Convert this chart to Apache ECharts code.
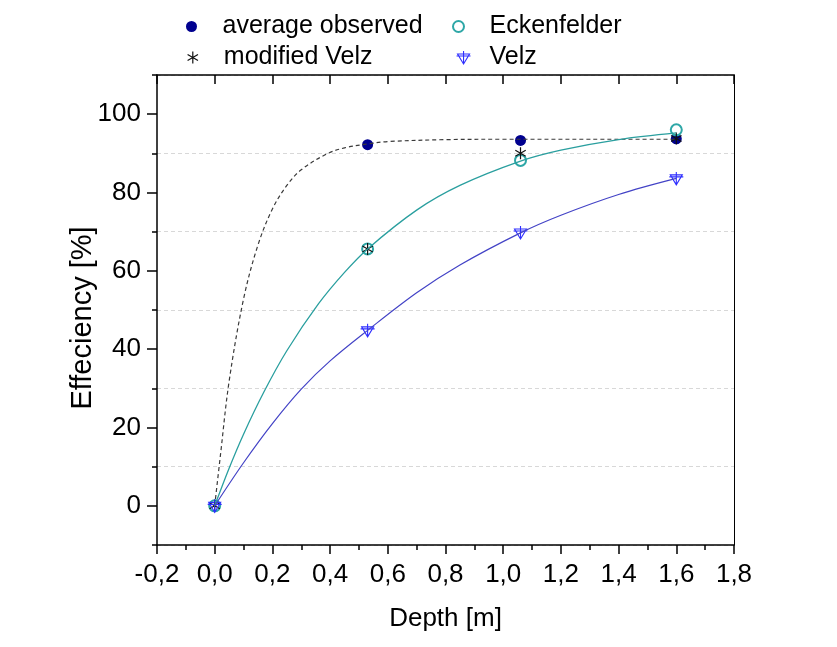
<!DOCTYPE html>
<html>
<head>
<meta charset="utf-8">
<script src="https://cdn.jsdelivr.net/npm/echarts@6/dist/echarts.min.js"></script>
<style>
  html, body { margin: 0; padding: 0; background: #fff; }
  #chart { width: 837px; height: 647px; }
</style>
</head>
<body>
<div id="chart"></div>
<script>
// Measured depths and removal efficiencies
const depth = [0, 0.53, 1.06, 1.6];
const averageObserved = [0, 92.2, 93.3, 93.7];
const eckenfelder = [0, 65.6, 88.2, 96.0];
const modifiedVelz = [0, 65.6, 90.0, 93.8];
const velz = [0, 44.8, 69.8, 83.6];

// Fitted curves (sampled along each line)
const observedFitX = [0, 0.02, 0.05, 0.1, 0.15, 0.2, 0.25, 0.3, 0.39, 0.45, 0.53, 0.6, 0.8, 1.0, 1.3, 1.6];
const observedFitY = [0, 13, 31.8, 52.8, 66.6, 75.8, 81.8, 85.8, 89.9, 91.4, 92.4, 93.0, 93.5, 93.6, 93.6, 93.6];
const eckenfelderFitX = [0, 0.05, 0.1, 0.17, 0.25, 0.36, 0.45, 0.53, 0.7, 0.85, 1.06, 1.2, 1.4, 1.6];
const eckenfelderFitY = [0, 9.6, 18.3, 29.0, 39.6, 51.6, 59.6, 65.6, 75.5, 81.8, 88, 90.8, 93.5, 95.2];
const velzFitX = [0, 0.1, 0.2, 0.3, 0.4, 0.53, 0.7, 0.85, 1.06, 1.2, 1.4, 1.6];
const velzFitY = [0, 11, 21, 29.8, 37, 44.8, 54.4, 61.5, 69.7, 74.2, 79.5, 83.6];

// Axis ranges
const xMin = -0.2, xMax = 1.8, xStep = 0.2;
const yMin = -10, yMax = 110;

const FONT = 'Liberation Sans, Arial, sans-serif';
const CLEAR = 'rgba(0,0,0,0)';
const ASTERISK = 'path://M6 0L6 12M0.8 3L11.2 9M0.8 9L11.2 3';
const TRI_CROSS = 'path://M1 3L13 3L7 13ZM0 5L14 5M7 0L7 13';

const pairs = (xs, ys) => xs.map((x, i) => [x, ys[i]]);

const chart = echarts.init(document.getElementById('chart'), null, { renderer: 'canvas' });

const legendBase = {
  orient: 'horizontal',
  padding: 0,
  selectedMode: false,
  textStyle: { fontSize: 25, color: '#000', fontFamily: FONT }
};

chart.setOption({
  backgroundColor: '#fff',
  animation: false,
  legend: [
    Object.assign({}, legendBase, { left: 186, top: 14, itemWidth: 52, itemHeight: 11,
      data: [{ name: 'average observed', icon: 'circle' }] }),
    Object.assign({}, legendBase, { left: 452, top: 14, itemWidth: 52, itemHeight: 11,
      data: [{ name: 'Eckenfelder', icon: 'emptyCircle' }] }),
    Object.assign({}, legendBase, { left: 187, top: 45, itemWidth: 52, itemHeight: 12,
      data: [{ name: 'modified Velz', icon: ASTERISK,
               itemStyle: { color: CLEAR, borderColor: '#111', borderWidth: 1.2 } }] }),
    Object.assign({}, legendBase, { left: 456, top: 45, itemWidth: 42, itemHeight: 13,
      data: [{ name: 'Velz', icon: TRI_CROSS,
               itemStyle: { color: CLEAR, borderColor: '#2f2fff', borderWidth: 1.1 } }] })
  ],
  grid: { left: 157, right: 103, top: 75, bottom: 102 },
  xAxis: [
    {
      type: 'value', position: 'bottom', min: xMin, max: xMax, interval: xStep,
      name: 'Depth [m]', nameLocation: 'middle', nameGap: 61,
      nameTextStyle: { fontSize: 26, color: '#000', fontFamily: FONT },
      axisLine: { show: true, onZero: false, lineStyle: { color: '#000', width: 1.5 } },
      axisTick: { show: true, inside: false, length: 9, lineStyle: { color: '#000', width: 1.5 } },
      minorTick: { show: true, splitNumber: 2, length: 5, lineStyle: { color: '#000', width: 1.5 } },
      axisLabel: {
        fontSize: 26, color: '#000', fontFamily: FONT, margin: 17,
        formatter: v => v.toFixed(1).replace('.', ',')
      },
      splitLine: { show: false }
    },
    {
      type: 'value', position: 'top', min: xMin, max: xMax, interval: xStep,
      axisLine: { show: true, onZero: false, lineStyle: { color: '#000', width: 1.5 } },
      axisTick: { show: true, inside: true, length: 9, lineStyle: { color: '#000', width: 1.5 } },
      axisLabel: { show: false },
      splitLine: { show: false }
    }
  ],
  yAxis: [
    {
      // ticks at the odd tens carry the dashed grid; minor ticks mark the labelled values
      type: 'value', position: 'left', min: yMin, max: yMax, interval: 20,
      name: 'Effeciency [%]', nameLocation: 'middle', nameGap: 60,
      nameTextStyle: { fontSize: 29, color: '#000', fontFamily: FONT, padding: [0, 16, 0, 0] },
      axisLine: { show: true, onZero: false, lineStyle: { color: '#000', width: 1.5 } },
      axisTick: { show: true, inside: false, length: 5, lineStyle: { color: '#000', width: 1.5 } },
      minorTick: { show: true, splitNumber: 2, length: 10, lineStyle: { color: '#000', width: 1.5 } },
      axisLabel: { show: false },
      splitLine: { show: true, lineStyle: { color: '#d8d8d8', width: 1, type: [4, 3] } }
    },
    {
      type: 'value', position: 'left', min: yMin, max: yMax, interval: 10,
      axisLine: { show: false },
      axisTick: { show: false },
      axisLabel: {
        fontSize: 26, color: '#000', fontFamily: FONT, margin: 16,
        formatter: v => (v >= 0 && v <= 100 && v % 20 === 0) ? String(v) : ''
      },
      splitLine: { show: false }
    },
    {
      type: 'value', position: 'right', min: yMin, max: yMax, interval: 20,
      axisLine: { show: true, onZero: false, lineStyle: { color: '#000', width: 1 } },
      axisTick: { show: false },
      axisLabel: { show: false },
      splitLine: { show: false }
    }
  ],
  series: [
    {
      name: 'observed fit', type: 'line', data: pairs(observedFitX, observedFitY),
      smooth: 0.35, showSymbol: false, silent: true,
      lineStyle: { color: '#3a3a3a', width: 1.2, type: [4, 3] }
    },
    {
      name: 'Eckenfelder fit', type: 'line', data: pairs(eckenfelderFitX, eckenfelderFitY),
      smooth: 0.35, showSymbol: false, silent: true,
      lineStyle: { color: '#2a9f9f', width: 1.3 }
    },
    {
      name: 'Velz fit', type: 'line', data: pairs(velzFitX, velzFitY),
      smooth: 0.35, showSymbol: false, silent: true,
      lineStyle: { color: '#4343c6', width: 1.2 }
    },
    {
      name: 'average observed', type: 'scatter', data: pairs(depth, averageObserved),
      symbol: 'circle', symbolSize: 11,
      itemStyle: { color: '#00008f', opacity: 1 }
    },
    {
      name: 'Eckenfelder', type: 'scatter', data: pairs(depth, eckenfelder),
      symbol: 'emptyCircle', symbolSize: 11,
      itemStyle: { color: '#2ea7a7', borderWidth: 1.2, opacity: 1 }
    },
    {
      name: 'modified Velz', type: 'scatter', data: pairs(depth, modifiedVelz),
      symbol: ASTERISK, symbolSize: 12, symbolKeepAspect: true,
      itemStyle: { color: CLEAR, borderColor: '#111', borderWidth: 1.2, opacity: 1 }
    },
    {
      name: 'Velz', type: 'scatter', data: pairs(depth, velz),
      symbol: TRI_CROSS, symbolSize: 14, symbolKeepAspect: true,
      itemStyle: { color: CLEAR, borderColor: '#2f2fff', borderWidth: 1.1, opacity: 1 }
    }
  ]
});
</script>
</body>
</html>
